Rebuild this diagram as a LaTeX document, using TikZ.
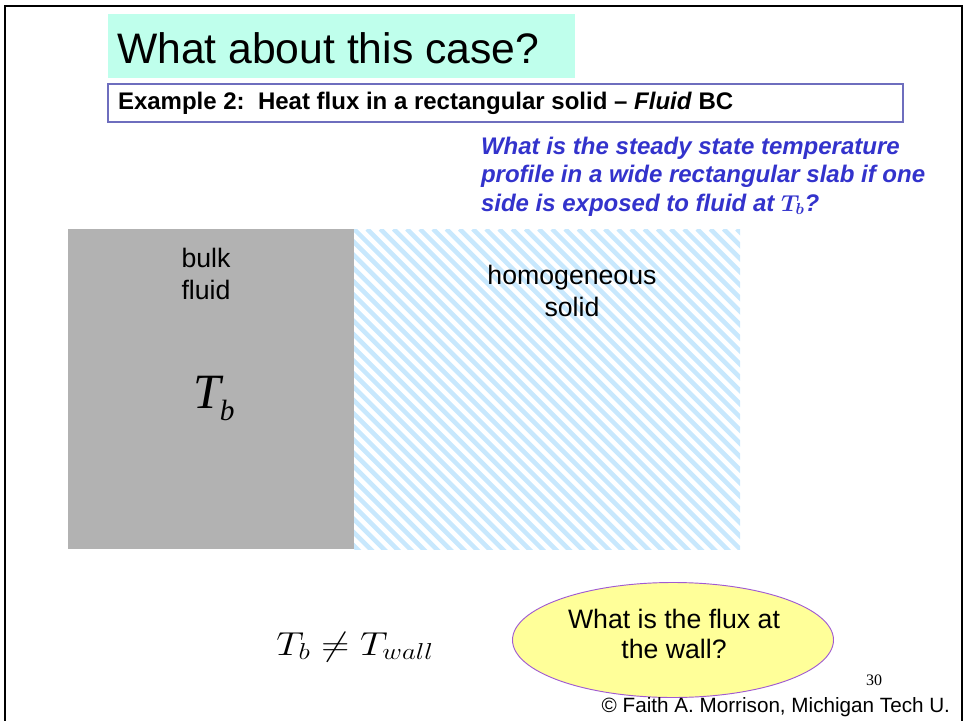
\documentclass[tikz,border=0pt]{standalone}
\usepackage{fontspec}
\setmainfont{Liberation Sans}
\newfontfamily\timesf{Liberation Serif}
\usepackage{amsmath}
\usepackage{bm}
\usetikzlibrary{shapes.geometric}
\definecolor{mint}{RGB}{191,255,236}
\definecolor{boxline}{RGB}{110,110,190}
\definecolor{qblue}{RGB}{51,51,204}
\definecolor{fluidgray}{RGB}{178,178,178}
\definecolor{hatchblue}{RGB}{200,232,253}
\definecolor{ellfill}{RGB}{255,255,153}
\definecolor{ellline}{RGB}{160,90,210}
\tikzset{
  plain/.style={inner sep=0pt, outer sep=0pt},
}
\begin{document}
\begin{tikzpicture}[x=0.75pt,y=-0.75pt]
\useasboundingbox (0,0) rectangle (964,721);
% slide frame
\draw[line width=1.6pt] (5,721) -- (5,6) -- (962,6) -- (962,721);
% title
\fill[mint] (108,14) rectangle (575,78);
\node[plain, anchor=west, font=\fontsize{32}{36}\selectfont] (title) at (117,48) {What about this case?};
% example box
\draw[boxline, line width=0.8pt] (108,84) rectangle (903,122);
\node[plain, anchor=west, font=\fontsize{18}{20}\selectfont\bfseries] (ex) at (118,103) {Example 2:\ \ Heat flux in a rectangular solid -- \textit{Fluid} BC};
% question
\node[plain, anchor=north west, align=left, text=qblue, font=\fontsize{18}{21.3}\selectfont\bfseries\itshape] (q) at (481,137)
  {What is the steady state temperature\\profile in a wide rectangular slab if one\\side is exposed to fluid at {\timesf$\bm{T_b}$}?};
% fluid region
\fill[fluidgray] (68,229) rectangle (354,549);
\node[plain, align=center, font=\fontsize{20}{23.5}\selectfont] (bulk) at (206,274) {bulk\\fluid};
\node[plain, anchor=base west, font=\fontsize{37}{40}\selectfont\timesf\itshape] (Tb) at (193,408) {T\kern-0.5pt\raisebox{-9pt}{\fontsize{22}{22}\selectfont b}};
% solid region hatch
\begin{scope}
  \clip (354,229) rectangle (740,549);
  \foreach \i in {-28,...,32} {
    \draw[hatchblue, line width=3.4pt] (354+\i*13.2,229) -- ++(330,330);
  }
\end{scope}
\node[plain, align=center, font=\fontsize{20}{23.5}\selectfont] (solid) at (572,291) {homogeneous\\solid};
% equation
\node[plain, anchor=base, font=\fontsize{23}{28}\selectfont] (eq) at (355,655) {\scalebox{1.17}[1]{$T_b \neq T_{wall}$}};
% ellipse
\node[draw=ellline, fill=ellfill, line width=0.7pt, ellipse, minimum width=240.75pt, minimum height=86.25pt, inner sep=0pt] (ell) at (673,640) {};
\node[plain, align=center, font=\fontsize{20}{22.5}\selectfont] (flux) at (674,634) {What is the flux at\\the wall?};
% page number & footer
\node[plain, font=\fontsize{12}{14}\selectfont\timesf] (num) at (874,680) {30};
\node[plain, anchor=east, font=\fontsize{15.5}{18}\selectfont] (copy) at (950,707) {\textcopyright\ Faith A. Morrison, Michigan Tech U.};
\end{tikzpicture}
\end{document}
